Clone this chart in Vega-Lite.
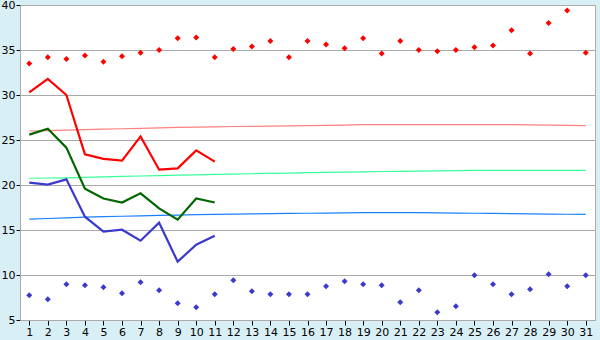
{
  "$schema": "https://vega.github.io/schema/vega-lite/v6.json",
  "width": 575,
  "height": 315,
  "autosize": {"type": "none"},
  "padding": {"left": 20, "top": 5, "right": 5, "bottom": 20},
  "background": "#d9eff6",
  "config": {
    "view": {"fill": "white", "stroke": "#aaaaaa", "strokeWidth": 1},
    "axis": {"labelFont": "DejaVu Sans", "labelFontSize": 11, "labelColor": "#000000", "domainColor": "#aaaaaa", "tickColor": "#000000", "gridColor": "#aaaaaa", "title": null}
  },
  "datasets": {
    "recmax": [
      {"day":1,"v":33.5},{"day":2,"v":34.2},{"day":3,"v":34.0},{"day":4,"v":34.4},{"day":5,"v":33.7},{"day":6,"v":34.3},{"day":7,"v":34.7},{"day":8,"v":35.0},{"day":9,"v":36.3},{"day":10,"v":36.4},{"day":11,"v":34.2},{"day":12,"v":35.1},{"day":13,"v":35.4},{"day":14,"v":36.0},{"day":15,"v":34.2},{"day":16,"v":36.0},{"day":17,"v":35.6},{"day":18,"v":35.2},{"day":19,"v":36.3},{"day":20,"v":34.6},{"day":21,"v":36.0},{"day":22,"v":35.0},{"day":23,"v":34.85},{"day":24,"v":35.0},{"day":25,"v":35.3},{"day":26,"v":35.5},{"day":27,"v":37.2},{"day":28,"v":34.6},{"day":29,"v":38.0},{"day":30,"v":39.4},{"day":31,"v":34.7}
    ],
    "recmin": [
      {"day":1,"v":7.74},{"day":2,"v":7.3},{"day":3,"v":8.97},{"day":4,"v":8.85},{"day":5,"v":8.63},{"day":6,"v":7.96},{"day":7,"v":9.19},{"day":8,"v":8.3},{"day":9,"v":6.85},{"day":10,"v":6.41},{"day":11,"v":7.85},{"day":12,"v":9.41},{"day":13,"v":8.19},{"day":14,"v":7.85},{"day":15,"v":7.85},{"day":16,"v":7.85},{"day":17,"v":8.74},{"day":18,"v":9.3},{"day":19,"v":8.97},{"day":20,"v":8.85},{"day":21,"v":6.96},{"day":22,"v":8.3},{"day":23,"v":5.85},{"day":24,"v":6.52},{"day":25,"v":9.96},{"day":26,"v":8.97},{"day":27,"v":7.85},{"day":28,"v":8.41},{"day":29,"v":10.07},{"day":30,"v":8.74},{"day":31,"v":9.96}
    ],
    "normmax": [
      {"day":1,"v":26.0},{"day":2,"v":26.05},{"day":3,"v":26.1},{"day":4,"v":26.15},{"day":5,"v":26.2},{"day":6,"v":26.25},{"day":7,"v":26.3},{"day":8,"v":26.35},{"day":9,"v":26.4},{"day":10,"v":26.43},{"day":11,"v":26.46},{"day":12,"v":26.5},{"day":13,"v":26.52},{"day":14,"v":26.55},{"day":15,"v":26.58},{"day":16,"v":26.6},{"day":17,"v":26.62},{"day":18,"v":26.65},{"day":19,"v":26.7},{"day":20,"v":26.7},{"day":21,"v":26.7},{"day":22,"v":26.7},{"day":23,"v":26.7},{"day":24,"v":26.7},{"day":25,"v":26.7},{"day":26,"v":26.7},{"day":27,"v":26.7},{"day":28,"v":26.68},{"day":29,"v":26.65},{"day":30,"v":26.62},{"day":31,"v":26.6}
    ],
    "normmean": [
      {"day":1,"v":20.75},{"day":2,"v":20.78},{"day":3,"v":20.8},{"day":4,"v":20.85},{"day":5,"v":20.9},{"day":6,"v":20.95},{"day":7,"v":21.0},{"day":8,"v":21.05},{"day":9,"v":21.1},{"day":10,"v":21.13},{"day":11,"v":21.17},{"day":12,"v":21.2},{"day":13,"v":21.25},{"day":14,"v":21.3},{"day":15,"v":21.33},{"day":16,"v":21.37},{"day":17,"v":21.4},{"day":18,"v":21.43},{"day":19,"v":21.46},{"day":20,"v":21.5},{"day":21,"v":21.52},{"day":22,"v":21.55},{"day":23,"v":21.57},{"day":24,"v":21.6},{"day":25,"v":21.62},{"day":26,"v":21.62},{"day":27,"v":21.62},{"day":28,"v":21.62},{"day":29,"v":21.62},{"day":30,"v":21.62},{"day":31,"v":21.62}
    ],
    "normmin": [
      {"day":1,"v":16.2},{"day":2,"v":16.28},{"day":3,"v":16.35},{"day":4,"v":16.42},{"day":5,"v":16.48},{"day":6,"v":16.53},{"day":7,"v":16.58},{"day":8,"v":16.62},{"day":9,"v":16.66},{"day":10,"v":16.7},{"day":11,"v":16.73},{"day":12,"v":16.76},{"day":13,"v":16.79},{"day":14,"v":16.82},{"day":15,"v":16.84},{"day":16,"v":16.86},{"day":17,"v":16.88},{"day":18,"v":16.9},{"day":19,"v":16.92},{"day":20,"v":16.93},{"day":21,"v":16.93},{"day":22,"v":16.92},{"day":23,"v":16.9},{"day":24,"v":16.88},{"day":25,"v":16.86},{"day":26,"v":16.84},{"day":27,"v":16.82},{"day":28,"v":16.8},{"day":29,"v":16.77},{"day":30,"v":16.75},{"day":31,"v":16.73}
    ],
    "actmax": [
      {"day":1,"v":30.3},{"day":2,"v":31.8},{"day":3,"v":30.0},{"day":4,"v":23.4},{"day":5,"v":22.9},{"day":6,"v":22.7},{"day":7,"v":25.4},{"day":8,"v":21.7},{"day":9,"v":21.85},{"day":10,"v":23.85},{"day":11,"v":22.6}
    ],
    "actmean": [
      {"day":1,"v":25.6},{"day":2,"v":26.25},{"day":3,"v":24.15},{"day":4,"v":19.6},{"day":5,"v":18.5},{"day":6,"v":18.05},{"day":7,"v":19.07},{"day":8,"v":17.4},{"day":9,"v":16.15},{"day":10,"v":18.5},{"day":11,"v":18.05}
    ],
    "actmin": [
      {"day":1,"v":20.26},{"day":2,"v":20.04},{"day":3,"v":20.63},{"day":4,"v":16.48},{"day":5,"v":14.81},{"day":6,"v":15.03},{"day":7,"v":13.81},{"day":8,"v":15.81},{"day":9,"v":11.48},{"day":10,"v":13.37},{"day":11,"v":14.37}
    ]
  },
  "encoding": {
    "x": {"field": "day", "type": "quantitative", "scale": {"domain": [0.5, 31.5], "nice": false, "zero": false},
      "axis": {"values": [1,2,3,4,5,6,7,8,9,10,11,12,13,14,15,16,17,18,19,20,21,22,23,24,25,26,27,28,29,30,31], "grid": false, "tickSize": 5, "labelPadding": 1, "labelFlush": false, "labelOverlap": false}},
    "y": {"field": "v", "type": "quantitative", "scale": {"domain": [5, 40], "nice": false, "zero": false},
      "axis": {"values": [5,10,15,20,25,30,35,40], "grid": true, "tickSize": 4, "labelPadding": 1, "labelFlush": false}}
  },
  "layer": [
    {"data": {"name": "normmax"}, "mark": {"type": "line", "color": "#ff8080", "strokeWidth": 1.2}},
    {"data": {"name": "normmean"}, "mark": {"type": "line", "color": "#33ff99", "strokeWidth": 1.2}},
    {"data": {"name": "normmin"}, "mark": {"type": "line", "color": "#1a80ff", "strokeWidth": 1.2}},
    {"data": {"name": "actmax"}, "mark": {"type": "line", "color": "#ff0000", "strokeWidth": 2.2}},
    {"data": {"name": "actmean"}, "mark": {"type": "line", "color": "#006600", "strokeWidth": 2.2}},
    {"data": {"name": "actmin"}, "mark": {"type": "line", "color": "#3a3acc", "strokeWidth": 2.2}},
    {"data": {"name": "recmax"}, "mark": {"type": "point", "shape": "diamond", "filled": true, "size": 36, "color": "#ff0000", "opacity": 1}},
    {"data": {"name": "recmin"}, "mark": {"type": "point", "shape": "diamond", "filled": true, "size": 36, "color": "#3a3acc", "opacity": 1}}
  ]
}
